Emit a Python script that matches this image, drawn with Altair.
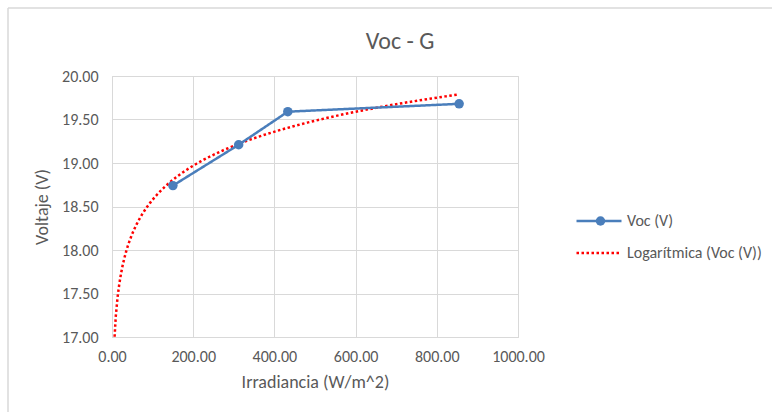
import altair as alt
import pandas as pd

# ---- data ----
irradiance = [150, 312, 433, 855]
voc = [18.74, 19.21, 19.59, 19.68]
series_names = ["Voc (V)", "Logarítmica (Voc (V))"]
x_ticks = [0, 200, 400, 600, 800, 1000]
y_ticks = [17.0, 17.5, 18.0, 18.5, 19.0, 19.5, 20.0]
trend_extent = [5, 855]

df = pd.DataFrame({
    "x": irradiance,
    "y": voc,
    "series": [series_names[0]] * len(irradiance),
    "marker": [series_names[0]] * len(irradiance),
})

FONT = "Carlito, Liberation Sans, Arial, sans-serif"
GRAY = "#595959"
GRID = "#D9D9D9"
BLUE = "#4A7EBB"
RED = "#FF0000"

W, H = 406, 261
LEFT, TOP = 112, 76

axis_style = dict(
    ticks=False, labelFlush=False, grid=True, gridColor=GRID, gridWidth=1,
    domainColor=GRID, domainWidth=1,
    labelFont=FONT, labelFontSize=16, labelColor=GRAY,
    titleFont=FONT, titleFontSize=18, titleColor=GRAY, titleFontWeight="normal",
)

x_enc = alt.X(
    "x:Q",
    scale=alt.Scale(domain=[0, 1000], nice=False, zero=False),
    axis=alt.Axis(values=x_ticks, format=".2f", title="Irradiancia (W/m^2)",
                  labelPadding=11, titlePadding=9, **axis_style),
)
y_enc = alt.Y(
    "y:Q",
    scale=alt.Scale(domain=[17, 20], nice=False, zero=False),
    axis=alt.Axis(values=y_ticks, format=".2f", title="Voltaje (V)",
                  labelPadding=14, titlePadding=10, **axis_style),
)

legend_main = alt.Legend(
    orient="none", legendX=463, legendY=121, title=None,
    symbolType="stroke", symbolSize=2025, symbolStrokeWidth=2.5,
    labelFont=FONT, labelFontSize=16, labelColor=GRAY, labelOffset=4,
    rowPadding=-17, padding=0,
)
color = alt.Color("series:N", scale=alt.Scale(domain=series_names, range=[BLUE, RED]),
                  legend=legend_main)
dash = alt.StrokeDash("series:N", scale=alt.Scale(domain=series_names, range=[[1, 0], [2.5, 2.5]]),
                      legend=legend_main)

base = alt.Chart(df)

line = base.mark_line(strokeWidth=2.5).encode(x=x_enc, y=y_enc, color=color, strokeDash=dash)

trend = base.transform_regression(
    "x", "y", method="log", extent=trend_extent
).transform_calculate(
    series="'" + series_names[1] + "'"
).mark_line(strokeWidth=2.5, clip=True).encode(
    x=x_enc, y=y_enc, color=color, strokeDash=dash
)

points = base.mark_point(filled=True, size=90, opacity=1, color=BLUE).encode(
    x=x_enc, y=y_enc,
    shape=alt.Shape("marker:N", scale=alt.Scale(domain=[series_names[0]], range=["circle"]),
                    legend=alt.Legend(orient="none", legendX=463, legendY=137.5, title=None,
                                      symbolSize=90, symbolFillColor=BLUE, symbolStrokeColor=BLUE,
                                      symbolOffset=18, labelExpr="''",
                                      labelFontSize=15, padding=0)),
)

frame = alt.Chart(alt.Data(values=[{}]))
border_v = frame.mark_rule(color=GRID, strokeWidth=1.5).encode(
    x=alt.value(8 - LEFT), y=alt.value(8 - TOP), y2=alt.value(412 - TOP + 5))
border_h = frame.mark_rule(color=GRID, strokeWidth=1.5).encode(
    x=alt.value(8 - LEFT), x2=alt.value(772 - LEFT + 5), y=alt.value(8 - TOP))

chart = alt.layer(trend, line, points, border_v, border_h).resolve_scale(
    color="shared", strokeDash="shared"
).properties(
    width=W, height=H,
    background="white",
    title=alt.TitleParams("Voc - G", anchor="middle", dx=85, dy=70, offset=23,
                          font=FONT, fontSize=24, fontWeight="normal", color=GRAY),
    autosize=alt.AutoSizeParams(type="none"),
    padding={"left": LEFT, "top": TOP, "right": 772 - LEFT - W, "bottom": 412 - TOP - H},
).configure_view(
    stroke=GRID, strokeWidth=1
)

chart.save("out.html", embed_options={"renderer": "svg", "actions": False})
